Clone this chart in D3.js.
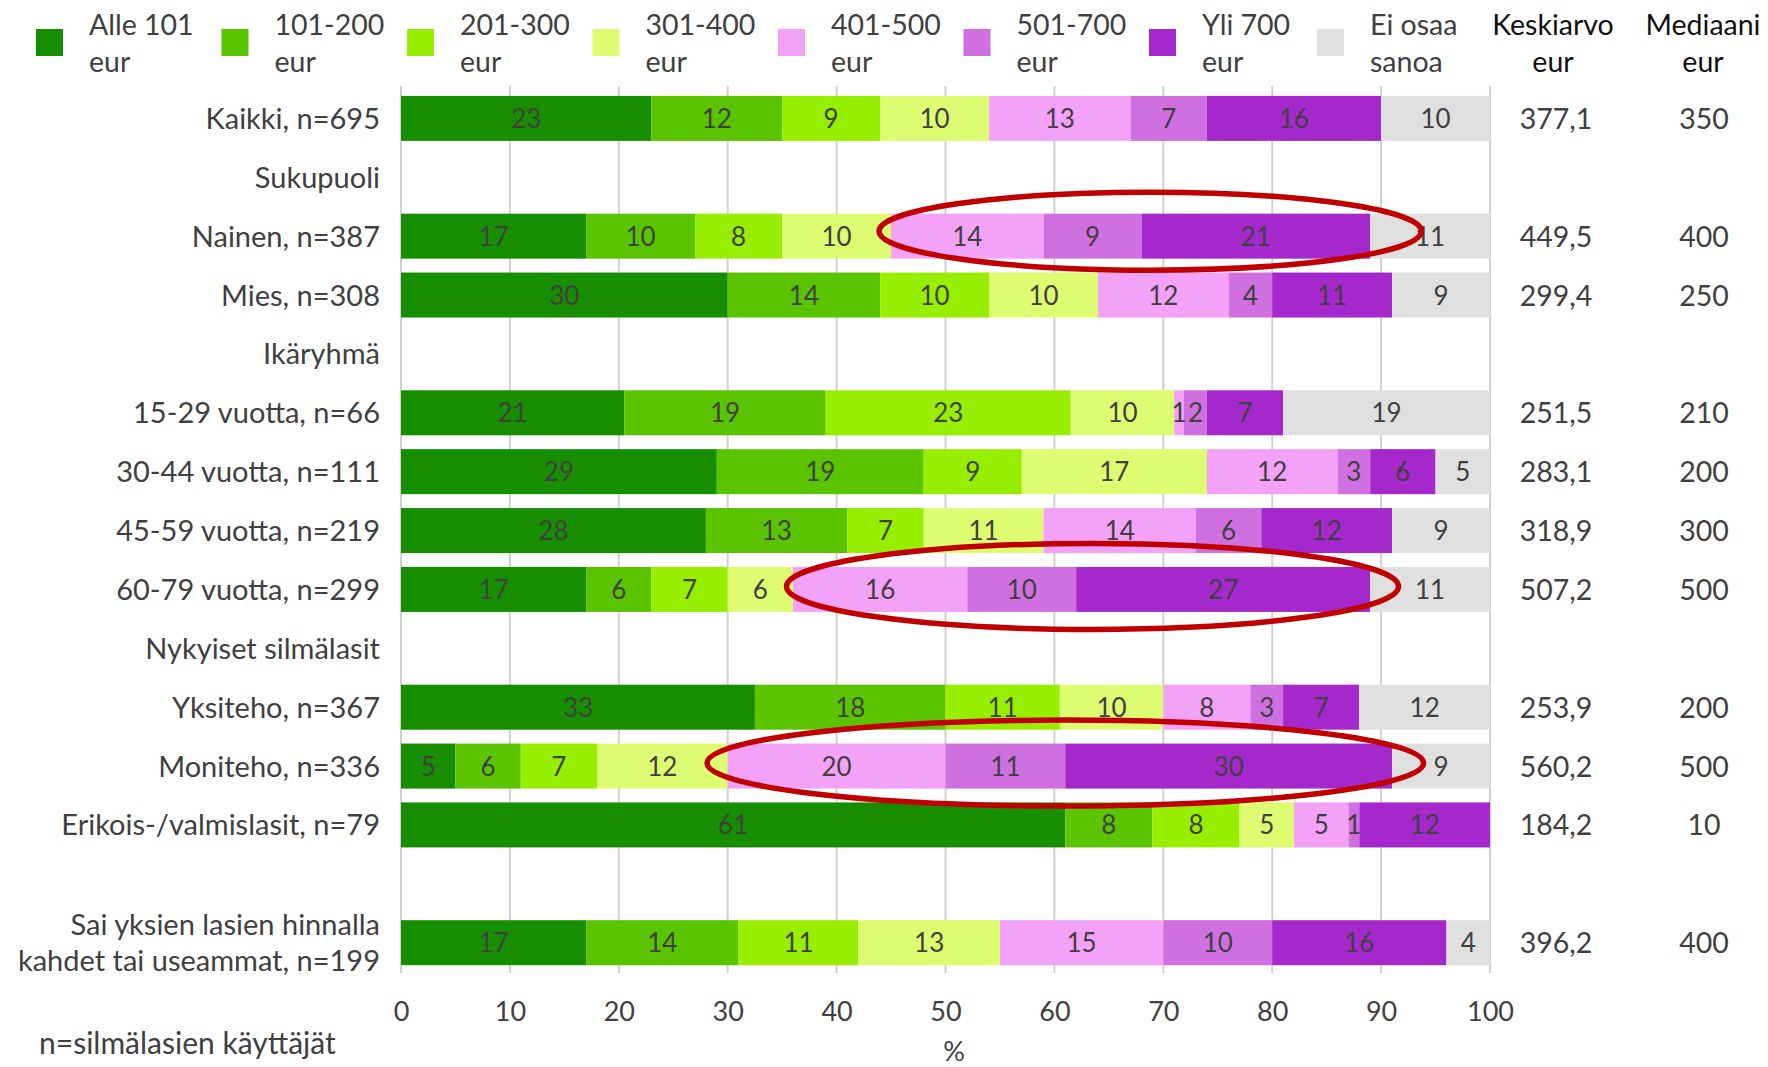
<!DOCTYPE html>
<html>
<head>
<meta charset="utf-8">
<script src="https://cdn.jsdelivr.net/npm/d3@7"></script>
<style>
  html, body { margin: 0; padding: 0; background: #fff; }
  svg { display: block; font-family: Lato, "Open Sans", sans-serif; }
</style>
</head>
<body>
<svg id="chart" width="1768" height="1067"></svg>
<script>
// ---------- data ----------
const rows = [
  "Kaikki, n=695", "Sukupuoli", "Nainen, n=387", "Mies, n=308", "Ikäryhmä",
  "15-29 vuotta, n=66", "30-44 vuotta, n=111", "45-59 vuotta, n=219", "60-79 vuotta, n=299",
  "Nykyiset silmälasit", "Yksiteho, n=367", "Moniteho, n=336", "Erikois-/valmislasit, n=79",
  "", "Sai yksien lasien hinnalla|kahdet tai useammat, n=199"
];
const seriesNames = ["Alle 101|eur", "101-200|eur", "201-300|eur", "301-400|eur", "401-500|eur", "501-700|eur", "Yli 700|eur", "Ei osaa|sanoa"];
const seriesColors = ["#178E00", "#5BC400", "#98EE00", "#DEFC72", "#F4A2F8", "#D070E0", "#A428CC", "#E0E0E0"];

const barRows = [
  "Kaikki, n=695", "Nainen, n=387", "Mies, n=308",
  "15-29 vuotta, n=66", "30-44 vuotta, n=111", "45-59 vuotta, n=219", "60-79 vuotta, n=299",
  "Yksiteho, n=367", "Moniteho, n=336", "Erikois-/valmislasit, n=79",
  "Sai yksien lasien hinnalla|kahdet tai useammat, n=199"
];
const alle101   = [23, 17, 30, 20.5, 29, 28, 17, 32.5, 5, 61, 17];
const e101_200  = [12, 10, 14, 18.5, 19, 13, 6, 17.5, 6, 8, 14];
const e201_300  = [9, 8, 10, 22.5, 9, 7, 7, 10.5, 7, 8, 11];
const e301_400  = [10, 10, 10, 9.5, 17, 11, 6, 9.5, 12, 5, 13];
const e401_500  = [13, 14, 12, 0.9, 12, 14, 16, 8, 20, 5, 15];
const e501_700  = [7, 9, 4, 2.1, 3, 6, 10, 3, 11, 1, 10];
const yli700    = [16, 21, 11, 7, 6, 12, 27, 7, 30, 12, 16];
const eiOsaa    = [10, 11, 9, 19, 5, 9, 11, 12, 9, 0, 4];
const keskiarvo = ["377,1", "449,5", "299,4", "251,5", "283,1", "318,9", "507,2", "253,9", "560,2", "184,2", "396,2"];
const mediaani  = ["350", "400", "250", "210", "200", "300", "500", "200", "500", "10", "400"];
const xTicks = [0, 10, 20, 30, 40, 50, 60, 70, 80, 90, 100];

// highlighted ellipses (centre/radius in % units, row)
const highlights = [
  { row: "Nainen, n=387", cx: 68.8, rx: 24.9, dy: -5, ry: 39 },
  { row: "60-79 vuotta, n=299", cx: 63.5, rx: 28.1, dy: -3, ry: 43 },
  { row: "Moniteho, n=336", cx: 61.0, rx: 32.9, dy: -3, ry: 43 }
];

// ---------- layout ----------
const svg = d3.select("#chart");
const x = d3.scaleLinear().domain([0, 100]).range([401, 1490]);
const y = d3.scalePoint().domain(rows).range([118.4, 942.7]);
const barH = 45;
const textCol = "#404040";
const fs = 28.5;
const fsCat = 29;

const seriesArrays = [alle101, e101_200, e201_300, e301_400, e401_500, e501_700, yli700, eiOsaa];
const table = barRows.map((r, i) => {
  const o = { row: r };
  seriesNames.forEach((s, k) => o[s] = seriesArrays[k][i]);
  return o;
});
const stacked = d3.stack().keys(seriesNames)(table);

// gridlines
svg.append("g").selectAll("line").data(xTicks).join("line")
  .attr("x1", d => x(d)).attr("x2", d => x(d))
  .attr("y1", 86).attr("y2", 973)
  .attr("stroke", "#D0D0D0").attr("stroke-width", 2);

// bars
const gBars = svg.append("g");
stacked.forEach((layer, k) => {
  gBars.append("g").attr("fill", seriesColors[k]).selectAll("rect").data(layer).join("rect")
    .attr("x", d => x(d[0]))
    .attr("width", d => x(d[1]) - x(d[0]))
    .attr("y", d => y(d.data.row) - barH / 2)
    .attr("height", barH);
});
// bar labels
const gLab = svg.append("g").attr("fill", textCol).attr("font-size", 26).attr("text-anchor", "middle");
stacked.forEach((layer) => {
  gLab.append("g").selectAll("text").data(layer.filter(d => d[1] - d[0] > 0)).join("text")
    .attr("x", d => (x(d[0]) + x(d[1])) / 2)
    .attr("y", d => y(d.data.row) + 9.5)
    .text(d => Math.round(d[1] - d[0]));
});

// category labels
const gCat = svg.append("g").attr("fill", textCol).attr("font-size", fsCat).attr("text-anchor", "end");
rows.forEach(r => {
  if (!r) return;
  const parts = r.split("|");
  const t = gCat.append("text").attr("x", 380).attr("y", y(r) + 10.5 - (parts.length - 1) * 18);
  parts.forEach((p, j) => t.append("tspan").attr("x", 380).attr("dy", j === 0 ? 0 : 36).text(p));
});

// value columns
const gVal = svg.append("g").attr("fill", textCol).attr("font-size", fs).attr("text-anchor", "middle");
barRows.forEach((r, i) => {
  gVal.append("text").attr("x", 1556).attr("y", y(r) + 10.5).text(keskiarvo[i]);
  gVal.append("text").attr("x", 1704).attr("y", y(r) + 10.5).text(mediaani[i]);
});
// column headers
const gHead = svg.append("g").attr("fill", "#111").attr("font-size", fs).attr("text-anchor", "middle");
[["Keskiarvo", "eur", 1553], ["Mediaani", "eur", 1703]].forEach(([a, b, cx]) => {
  gHead.append("text").attr("x", cx).attr("y", 35).text(a);
  gHead.append("text").attr("x", cx).attr("y", 72).text(b);
});

// legend
const legX = [36, 221.5, 407, 592.5, 778, 963.5, 1149, 1317];
const gLeg = svg.append("g");
seriesNames.forEach((s, k) => {
  gLeg.append("rect").attr("x", legX[k]).attr("y", 29).attr("width", 27).attr("height", 27).attr("fill", seriesColors[k]);
  const parts = s.split("|");
  parts.forEach((p, j) => gLeg.append("text").attr("x", legX[k] + 53).attr("y", 35 + j * 37)
    .attr("fill", textCol).attr("font-size", fs).text(p));
});

// x axis
const axis = d3.axisBottom(x).tickValues(xTicks).tickSize(0).tickPadding(0).tickFormat(d3.format("d"));
const gAx = svg.append("g").attr("transform", "translate(0,1021)").call(axis);
gAx.select(".domain").remove();
gAx.selectAll("text").attr("fill", textCol).attr("font-size", 27).attr("font-family", "Lato").attr("dy", 0);

svg.append("text").attr("x", 954).attr("y", 1061).attr("text-anchor", "middle")
  .attr("fill", textCol).attr("font-size", 27).text("%");
svg.append("text").attr("x", 39).attr("y", 1054)
  .attr("fill", textCol).attr("font-size", 30).text("n=silmälasien käyttäjät");

// highlight ellipses
svg.append("g").selectAll("ellipse").data(highlights).join("ellipse")
  .attr("cx", d => x(d.cx))
  .attr("cy", d => y(d.row) + d.dy)
  .attr("rx", d => x(d.rx) - x(0))
  .attr("ry", d => d.ry)
  .attr("fill", "none").attr("stroke", "#C00000").attr("stroke-width", 5.5);
</script>
</body>
</html>
